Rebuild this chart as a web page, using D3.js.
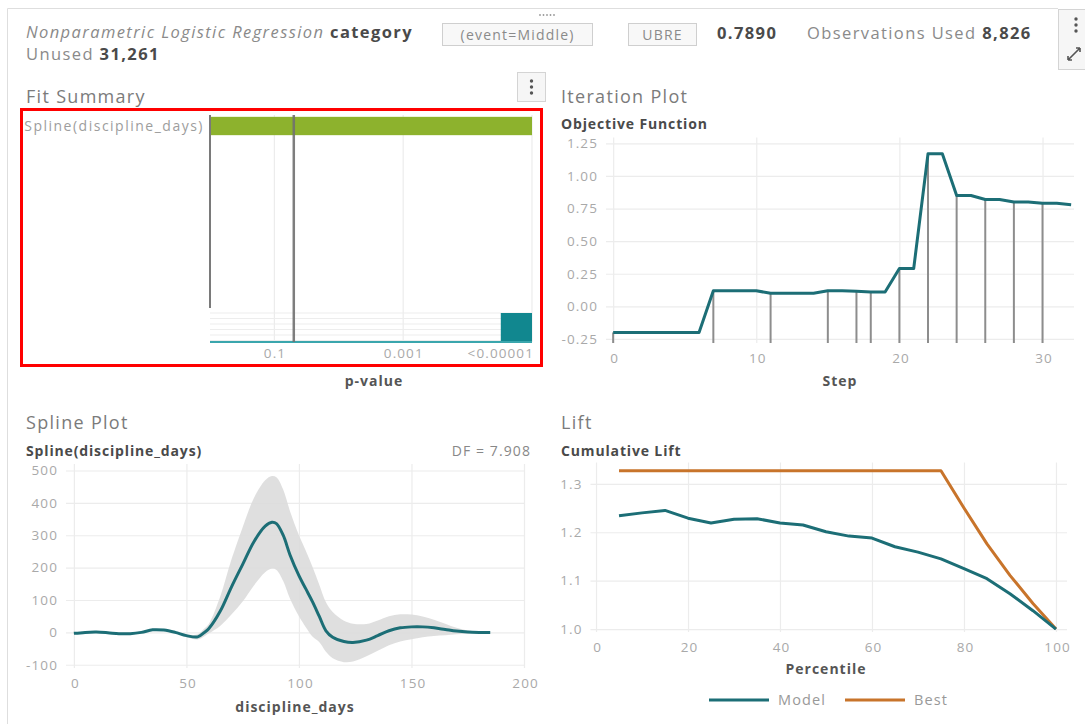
<!DOCTYPE html>
<html>
<head>
<meta charset="utf-8">
<script src="https://cdn.jsdelivr.net/npm/d3@7"></script>
<style>
  body { margin: 0; background: #fff; }
  svg { display: block; font-family: "Open Sans", Lato, sans-serif; }
</style>
</head>
<body>
<svg id="chart" width="1085" height="724"></svg>
<script>
// ---------- Data ----------
// Fit summary: effect and its p-value (as -log10 p, capped at 5 => "<0.00001")
const effects = ["Spline(discipline_days)"];
const effectLogP = [5];
const pTickValues = [1, 3, 5];
const pTickLabels = ["0.1", "0.001", "<0.00001"];
const pSignificance = 0.05;

// Iteration history
const steps = [0,1,2,3,4,5,6,7,8,9,10,11,12,13,14,15,16,17,18,19,20,21,22,23,24,25,26,27,28,29,30,31,32];
const objective = [-0.20,-0.20,-0.20,-0.20,-0.20,-0.20,-0.20,0.12,0.12,0.12,0.12,0.10,0.10,0.10,0.10,0.12,0.12,0.115,0.11,0.11,0.29,0.29,1.17,1.17,0.85,0.85,0.82,0.82,0.80,0.80,0.79,0.79,0.78];
const stemSteps = [0,7,11,15,17,18,20,22,24,26,28,30];
const iterYTicks = [-0.25,0,0.25,0.5,0.75,1.0,1.25];
const iterXTicks = [0,10,20,30];

// Spline component for discipline_days with confidence band
const splineX = [0,5,10,15,20,25,30,35,40,45,50,55,58,60,65,70,75,80,85,88,90,93,96,100,103,106,109,112,115,120,124,130,135,140,145,150,155,160,165,170,175,180,185];
const splineFit = [-3,0,1,-1,-4,-4,0,8,7,0,-10,-14,0,12,65,140,210,280,328,340,336,300,240,175,135,95,50,5,-15,-28,-31,-24,-10,5,14,17,17,14,9,4,1,0,0];
const splineUpper = [0,3,4,2,-1,-1,3,11,10,3,-6,-6,12,27,110,225,325,415,470,483,479,441,375,300,253,203,148,93,63,36,27,26,37,50,56,55,49,39,27,14,6,3,3];
const splineLower = [-6,-3,-2,-4,-7,-7,-3,5,4,-3,-14,-22,-12,-3,20,55,95,145,186,197,193,159,105,50,17,-13,-30,-60,-80,-92,-90,-74,-57,-40,-28,-21,-15,-11,-9,-6,-4,-3,-3];
const splineYTicks = [-100,0,100,200,300,400,500];
const splineXTicks = [0,50,100,150,200];

// Cumulative lift
const percentiles = [5,10,15,20,25,30,35,40,45,50,55,60,65,70,75,80,85,90,95,100];
const modelLift = [1.234,1.240,1.245,1.229,1.219,1.227,1.228,1.219,1.215,1.201,1.192,1.188,1.170,1.159,1.145,1.125,1.104,1.073,1.038,1.000];
const bestLift = [1.327,1.327,1.327,1.327,1.327,1.327,1.327,1.327,1.327,1.327,1.327,1.327,1.327,1.327,1.327,1.250,1.176,1.111,1.053,1.000];
const liftYTicks = [1.0,1.1,1.2,1.3];
const liftXTicks = [0,20,40,60,80,100];
const legendNames = ["Model", "Best"];

// ---------- Style ----------
const TEAL = "#1c6e76";
const ORANGE = "#c8742b";
const GREEN = "#8db22d";
const GRID = "#ececec";
const TICK = "#a9a9a9";
const TITLE = "#7b7b7b";
const DARK = "#4a4a4a";
const FONT = "\"Open Sans\", Lato, sans-serif";

// number formatting with a plain hyphen for negatives
const locale = d3.formatLocale({ decimal: ".", thousands: ",", grouping: [3], currency: ["", ""], minus: "-" });

const svg = d3.select("#chart");

// text helper: position, size, letter spacing
function label(x, y, t, size, ls, opts) {
  opts = opts || {};
  return svg.append("text").attr("x", x).attr("y", y).attr("font-size", size)
    .attr("letter-spacing", ls).attr("text-anchor", opts.anchor || "start")
    .attr("font-weight", opts.weight || "normal").attr("font-style", opts.style || "normal")
    .attr("fill", opts.fill || DARK).text(t);
}

// ---------- Frame & header ----------
svg.append("path").attr("d", "M7.5,724 V8.5 H1058").attr("fill", "none").attr("stroke", "#dedede");
svg.append("g").selectAll("circle").data([0,1,2,3,4]).join("circle")
  .attr("cx", d => 540 + d * 3.5).attr("cy", 15).attr("r", 0.9).attr("fill", "#999");

const h1 = svg.append("text").attr("x", 26).attr("y", 38).attr("font-size", 16.5).attr("letter-spacing", 1.4);
h1.append("tspan").attr("font-style", "italic").attr("fill", "#8a8a8a").text("Nonparametric Logistic Regression");
h1.append("tspan").attr("font-weight", "bold").attr("fill", DARK).text(" category");
const h2 = svg.append("text").attr("x", 26).attr("y", 60).attr("font-size", 16.5).attr("letter-spacing", 1.4);
h2.append("tspan").attr("fill", "#8a8a8a").text("Unused ");
h2.append("tspan").attr("font-weight", "bold").attr("fill", DARK).text("31,261");

function button(x, w, t) {
  svg.append("rect").attr("x", x + 0.5).attr("y", 23.5).attr("width", w).attr("height", 22)
    .attr("fill", "#f8f8f8").attr("stroke", "#cfcfcf");
  label(x + w / 2 + 0.6, 39.5, t, 14, 1.2, { anchor: "middle", fill: "#8a8a8a" });
}
button(442, 150, "(event=Middle)");
button(628, 68, "UBRE");
label(717, 39, "0.7890", 16.5, 1.4, { weight: "bold" });
const obs = svg.append("text").attr("x", 807).attr("y", 39).attr("font-size", 16.5).attr("letter-spacing", 1.4);
obs.append("tspan").attr("fill", "#8a8a8a").text("Observations Used ");
obs.append("tspan").attr("font-weight", "bold").attr("fill", DARK).text("8,826");

// top-right tool box
svg.append("rect").attr("x", 1058.5).attr("y", 9.5).attr("width", 30).attr("height", 60)
  .attr("fill", "#f6f6f6").attr("stroke", "#d4d4d4");
svg.append("g").selectAll("circle").data([0,1,2]).join("circle")
  .attr("cx", 1076).attr("cy", d => 19 + d * 6).attr("r", 1.7).attr("fill", "#555");
svg.append("path").attr("d", "M1068,60 L1080,48 M1080,48 l-4,0 M1080,48 l0,4 M1068,60 l4,0 M1068,60 l0,-4")
  .attr("stroke", "#555").attr("stroke-width", 1.6).attr("fill", "none");

// ---------- Helpers ----------
function panelTitle(x, y, t) { label(x, y, t, 18, 1.3, { fill: TITLE }); }
function subTitle(x, y, t) { label(x, y, t, 14, 0.85, { weight: "bold" }); }
function axisLabel(x, y, t) { label(x, y, t, 14, 1.0, { weight: "bold", anchor: "middle", fill: "#555" }); }
function styleTicks(g) {
  g.selectAll(".tick text").attr("fill", TICK).attr("font-size", 13.5)
    .attr("letter-spacing", 1.1).attr("font-family", FONT);
}
function gridAxes(x, y, xTicks, yTicks, yFmt) {
  const [x0, x1] = x.range();
  const [y0, y1] = y.range();
  const gy = svg.append("g").attr("transform", `translate(${x0},0)`)
    .call(d3.axisLeft(y).tickValues(yTicks).tickFormat(yFmt).tickSize(-(x1 - x0)).tickPadding(8));
  const gx = svg.append("g").attr("transform", `translate(0,${y0})`)
    .call(d3.axisBottom(x).tickValues(xTicks).tickFormat(locale.format("d")).tickSize(-(y0 - y1)).tickPadding(8));
  [gx, gy].forEach(g => {
    g.select(".domain").remove();
    g.selectAll(".tick line").attr("stroke", GRID).attr("stroke-width", 1.2);
    styleTicks(g);
  });
  gx.selectAll(".tick text").attr("dy", "0.9em").attr("dx", "0.08em");
}

// ---------- Fit Summary ----------
panelTitle(26, 103, "Fit Summary");
svg.append("rect").attr("x", 517.5).attr("y", 72.5).attr("width", 28).attr("height", 29)
  .attr("fill", "#f6f6f6").attr("stroke", "#d4d4d4");
svg.append("g").selectAll("circle").data([0,1,2]).join("circle")
  .attr("cx", 531.5).attr("cy", d => 81 + d * 6).attr("r", 1.7).attr("fill", "#555");

const px = d3.scaleLinear().domain([0, 5]).range([210, 532]);
const py = d3.scaleBand().domain(effects).range([115, 137]).paddingInner(0).paddingOuter(0.1);

// vertical gridlines at p-value ticks
svg.append("g").selectAll("line").data(pTickValues).join("line")
  .attr("x1", d => px(d)).attr("x2", d => px(d)).attr("y1", 115).attr("y2", 342)
  .attr("stroke", GRID).attr("stroke-width", 1.2);

// overview histogram strip under the bars
const histTop = 313, histBottom = 342;
svg.append("g").selectAll("line").data(d3.range(0, 6)).join("line")
  .attr("x1", px(0)).attr("x2", px(5))
  .attr("y1", d => histTop + d * 5.5).attr("y2", d => histTop + d * 5.5)
  .attr("stroke", "#ededed");
const bins = d3.bin().domain([0, 5]).thresholds(d3.range(0, 5, 0.5))(effectLogP.map(v => Math.min(v, 4.999)));
const hy = d3.scaleLinear().domain([0, d3.max(bins, b => b.length)]).range([histBottom, histTop]);
svg.append("g").selectAll("rect").data(bins.filter(b => b.length)).join("rect")
  .attr("x", b => px(b.x0) + 1).attr("width", b => px(b.x1) - px(b.x0) - 1)
  .attr("y", b => hy(b.length)).attr("height", b => histBottom - hy(b.length))
  .attr("fill", "#11878f");
svg.append("line").attr("x1", px(0)).attr("x2", px(5)).attr("y1", histBottom).attr("y2", histBottom)
  .attr("stroke", "#3aa6ad").attr("stroke-width", 2);

// bars
svg.append("g").selectAll("rect").data(effects).join("rect")
  .attr("x", px(0)).attr("y", d => py(d))
  .attr("width", (d, i) => px(effectLogP[i]) - px(0)).attr("height", py.bandwidth())
  .attr("fill", GREEN);
effects.forEach(d => label(204, py(d) + py.bandwidth() / 2 + 4.5, d, 14, 1.5, { anchor: "end", fill: "#9d9d9d" }));

// axis line and significance reference line
svg.append("line").attr("x1", 210).attr("x2", 210).attr("y1", 115).attr("y2", 308)
  .attr("stroke", "#7a7a7a").attr("stroke-width", 2);
svg.append("line").attr("x1", px(-Math.log10(pSignificance))).attr("x2", px(-Math.log10(pSignificance)))
  .attr("y1", 115).attr("y2", 342).attr("stroke", "#707070").attr("stroke-opacity", 0.9).attr("stroke-width", 2.5);

pTickValues.forEach((d, i) => {
  const last = i === pTickValues.length - 1;
  label(px(d) + (last ? 2 : 0.6), 358, pTickLabels[i], 13.5, 1.1, { anchor: last ? "end" : "middle", fill: TICK });
});
axisLabel(374, 386, "p-value");

svg.append("rect").attr("x", 21.5).attr("y", 109.5).attr("width", 520).attr("height", 256)
  .attr("fill", "none").attr("stroke", "#ff0000").attr("stroke-width", 3);

// ---------- Iteration Plot ----------
panelTitle(561, 103, "Iteration Plot");
subTitle(561, 129, "Objective Function");
const ix = d3.scaleLinear().domain([-0.5, 32.2]).range([606, 1074]);
const iy = d3.scaleLinear().domain([-0.281, 1.295]).range([343, 137.5]);
gridAxes(ix, iy, iterXTicks, iterYTicks, locale.format(".2f"));

svg.append("g").selectAll("line").data(stemSteps).join("line")
  .attr("x1", d => ix(d)).attr("x2", d => ix(d))
  .attr("y1", d => iy(objective[steps.indexOf(d)])).attr("y2", 343)
  .attr("stroke", "#8d8d8d").attr("stroke-width", 2);
svg.append("path").datum(steps)
  .attr("d", d3.line().x(d => ix(d)).y((d, i) => iy(objective[i])))
  .attr("fill", "none").attr("stroke", TEAL).attr("stroke-width", 3).attr("stroke-linejoin", "round");
axisLabel(840, 386, "Step");

// ---------- Spline Plot ----------
panelTitle(26, 429, "Spline Plot");
subTitle(26, 456, "Spline(discipline_days)");
label(531, 456, "DF = 7.908", 14, 1.1, { anchor: "end", fill: "#888" });
const sx = d3.scaleLinear().domain([-3.5, 200]).range([66, 524]);
const sy = d3.scaleLinear().domain([-110, 520]).range([668, 464]);
gridAxes(sx, sy, splineXTicks, splineYTicks, locale.format("d"));

svg.append("path").datum(splineX)
  .attr("d", d3.area().curve(d3.curveCatmullRom.alpha(0.5))
    .x(d => sx(d)).y0((d, i) => sy(splineLower[i])).y1((d, i) => sy(splineUpper[i])))
  .attr("fill", "#dcdcdc").attr("fill-opacity", 0.9);
svg.append("path").datum(splineX)
  .attr("d", d3.line().curve(d3.curveCatmullRom.alpha(0.5)).x(d => sx(d)).y((d, i) => sy(splineFit[i])))
  .attr("fill", "none").attr("stroke", TEAL).attr("stroke-width", 3);
axisLabel(295, 712, "discipline_days");

// ---------- Lift ----------
panelTitle(561, 429, "Lift");
subTitle(561, 456, "Cumulative Lift");
const lx = d3.scaleLinear().domain([-1.2, 102.4]).range([590.5, 1067]);
const ly = d3.scaleLinear().domain([0.994, 1.344]).range([632, 462.5]);
gridAxes(lx, ly, liftXTicks, liftYTicks, locale.format(".1f"));

const liftLine = vals => d3.line().x(d => lx(d)).y((d, i) => ly(vals[i]));
svg.append("path").datum(percentiles).attr("d", liftLine(bestLift))
  .attr("fill", "none").attr("stroke", ORANGE).attr("stroke-width", 3).attr("stroke-linejoin", "round");
svg.append("path").datum(percentiles).attr("d", liftLine(modelLift))
  .attr("fill", "none").attr("stroke", TEAL).attr("stroke-width", 3).attr("stroke-linejoin", "round");
axisLabel(826, 674, "Percentile");

// legend
const legendColors = [TEAL, ORANGE];
const legendX = [709, 845];
legendNames.forEach((name, i) => {
  svg.append("line").attr("x1", legendX[i]).attr("x2", legendX[i] + 60).attr("y1", 700).attr("y2", 700)
    .attr("stroke", legendColors[i]).attr("stroke-width", 3);
  label(legendX[i] + 69, 705, name, 14.5, 1.1, { fill: "#999" });
});
</script>
</body>
</html>
